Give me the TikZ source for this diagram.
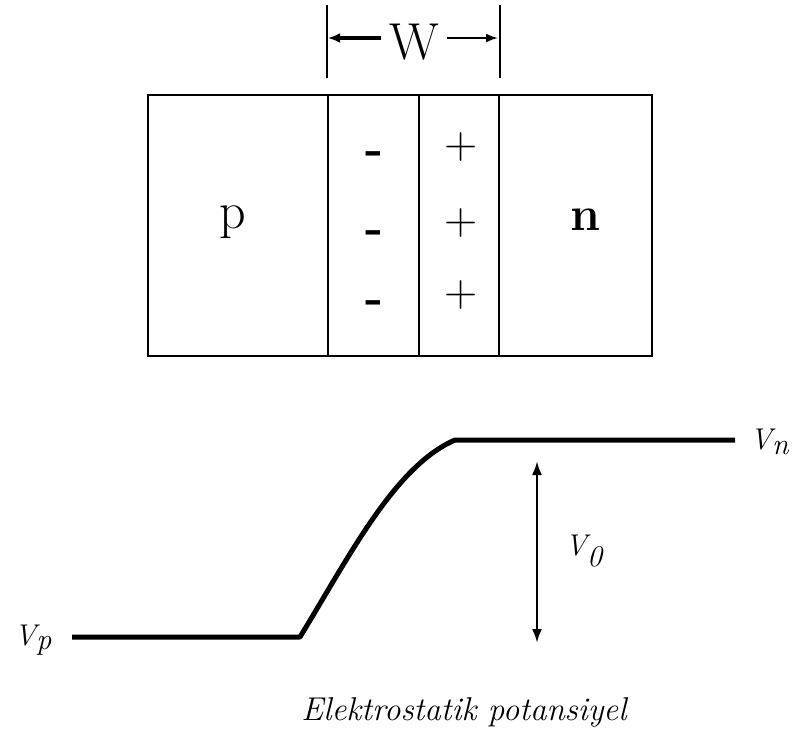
\documentclass[tikz,border=0pt]{standalone}
\usepackage{fontspec}
\usetikzlibrary{arrows.meta}
\begin{document}
\begin{tikzpicture}[x=1pt,y=-1pt,
  region/.style={draw,line width=2.4pt,anchor=north west,inner sep=0pt,outer sep=0pt,minimum height=261pt},
  big/.style={font=\fontsize{52}{52}\selectfont,inner sep=0pt},
  sign/.style={font=\fontsize{46}{46}\selectfont,inner sep=0pt},
  lbl/.style={font=\fontsize{30}{30}\selectfont\itshape,inner sep=0pt},
  tick/.style={line width=1.8pt},
  curve/.style={line width=5pt,line join=round}
]
\useasboundingbox (0,0) rectangle (793,742);
% regions
\node[region,minimum width=180pt] (preg) at (148,95) {};
\node[region,minimum width=91pt] (mreg) at (328,95) {};
\node[region,minimum width=80pt] (preg2) at (419,95) {};
\node[region,minimum width=153pt] (nreg) at (499,95) {};
% texts
\node[big] (ptext) at (233,222) {p};
\node[big,font=\fontsize{48}{48}\selectfont\bfseries] (ntext) at (585,220) {n};
\node[sign,font=\fontsize{48}{48}\selectfont\bfseries] (m1) at (374,158) {-};
\node[sign,font=\fontsize{48}{48}\selectfont\bfseries] (m2) at (374,237) {-};
\node[sign,font=\fontsize{48}{48}\selectfont\bfseries] (m3) at (374,307) {-};
\node[sign] (p1) at (461,147) {+};
\node[sign] (p2) at (461,223) {+};
\node[sign] (p3) at (461,295) {+};
% W dimension
\coordinate (wl) at (327,5);
\coordinate (wlb) at (327,78);
\coordinate (wr) at (500,5);
\coordinate (wrb) at (500,78);
\draw[tick] (wl) -- (wlb);
\draw[tick] (wr) -- (wrb);
\node[big] (wtext) at (414,42) {W};
\coordinate (wla) at (328,38);
\coordinate (wra) at (498,38);
\draw[line width=3.5pt,-{Latex[length=12pt,width=10pt]}] (wtext.west) ++(-8,-4) coordinate (wls) -- (wla |- wls);
\draw[line width=2pt,-{Latex[length=12pt,width=9pt]}] (wtext.east) ++(8,-4) coordinate (wrs) -- (wra |- wrs);
% potential curve
\coordinate (a0) at (72,637);
\coordinate (a1) at (300,637);
\coordinate (a2) at (455,440);
\coordinate (a3) at (735,440);
\draw[curve] (a0) -- (a1) .. controls (350,555) and (395,466) .. (a2) -- (a3);
\node[lbl,anchor=west] (vn) at (750,442) {V$_{\textit{n}}$};
\node[lbl,anchor=east] (vp) at (52,640) {V$_{\textit{p}}$};
% V0 arrow
\coordinate (v0t) at (537,461);
\coordinate (v0b) at (537,643);
\draw[line width=2.5pt,{Latex[length=14pt,width=10pt]}-{Latex[length=14pt,width=10pt]}] (v0t) -- (v0b);
\node[lbl,anchor=west] (v0) at (565,551) {V$_{\textit{0}}$};
\node[lbl,font=\fontsize{33}{33}\selectfont\itshape] (cap) at (464,712) {Elektrostatik potansiyel};
\end{tikzpicture}
\end{document}
